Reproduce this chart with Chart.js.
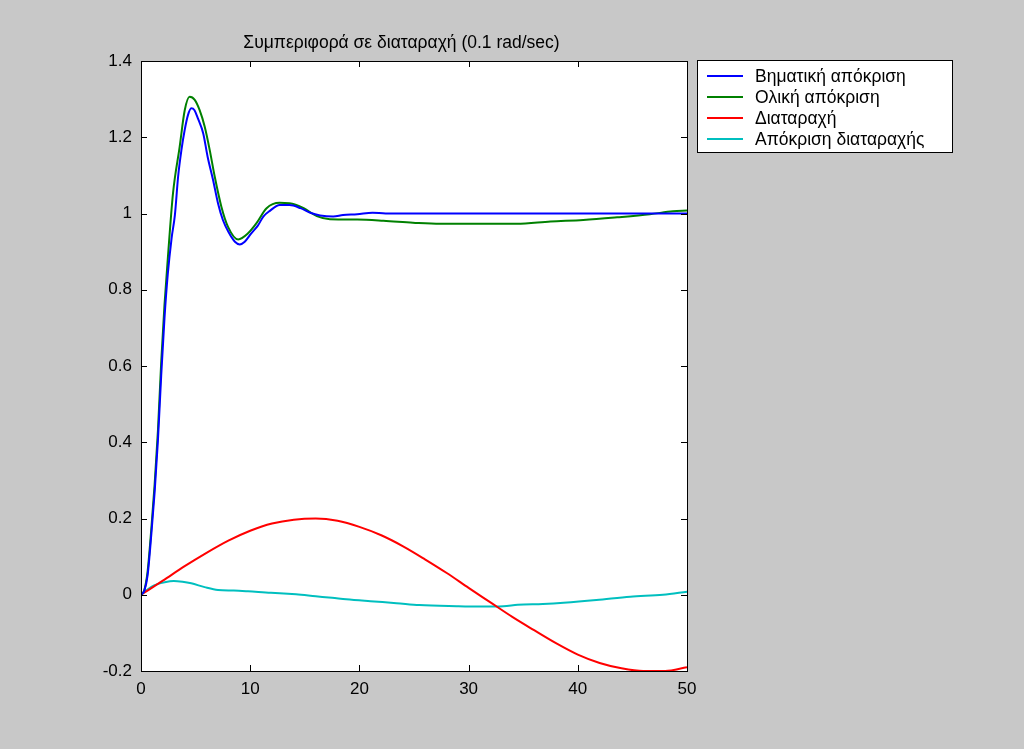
<!DOCTYPE html>
<html lang="el">
<head>
  <meta charset="UTF-8">
  <title>Συμπεριφορά σε διαταραχή</title>
  <script src="https://cdn.jsdelivr.net/npm/chart.js@4.4.1/dist/chart.umd.min.js"></script>
  <style>
    body {
      margin: 0;
      background-color: #c8c8c8;
    }
    #wrap {
      width: 1024px;
      height: 749px;
    }
  </style>
</head>
<body>
  <div id="wrap">
    <canvas id="responseChart" width="1024" height="749"></canvas>
  </div>

  <script>
    const chartTitle = 'Συμπεριφορά σε διαταραχή (0.1 rad/sec)';
    const seriesNames = ['Βηματική απόκριση', 'Ολική απόκριση', 'Διαταραχή', 'Απόκριση διαταραχής'];
    const seriesColors = ['#0000ff', '#008000', '#ff0000', '#00bfbf'];

    const xTicks = [0, 10, 20, 30, 40, 50];
    const yTicks = [-0.2, 0, 0.2, 0.4, 0.6, 0.8, 1, 1.2, 1.4];

    // step response
    const tStep = [0, 0.3, 0.6, 0.95, 1.25, 1.55, 1.85, 2.15, 2.45, 2.8, 3.1, 3.4, 3.7, 4.0, 4.3, 4.6, 4.9, 5.2, 5.7, 6.1, 6.6,
      7.05, 7.5, 8.0, 8.6, 9.05, 9.5, 10.1, 10.7, 11.2, 11.8, 12.7, 13.6, 14.6, 15.5, 16.4, 17.6, 18.5, 19.8, 21.2, 22.4, 50];
    const vStep = [0, 0.01, 0.05, 0.16, 0.27, 0.405, 0.575, 0.725, 0.84, 0.935, 0.995, 1.097, 1.166, 1.219, 1.258, 1.276, 1.271,
      1.25, 1.21, 1.149, 1.088, 1.027, 0.983, 0.952, 0.926, 0.919, 0.926, 0.948, 0.968, 0.992, 1.007, 1.022, 1.022, 1.014,
      1.002, 0.995, 0.992, 0.996, 0.998, 1.002, 1.0, 1.0];

    // total response
    const tTotal = [0, 0.3, 0.6, 0.95, 1.25, 1.55, 1.85, 2.15, 2.45, 2.93, 3.54, 4.0, 4.45, 4.92, 5.37, 5.83, 6.29, 6.75, 7.36,
      7.97, 8.9, 9.8, 10.56, 11.5, 12.7, 13.6, 14.9, 16.1, 17.3, 19.8, 22.2, 24.9, 27.4, 34.4, 37.5, 40.5, 43.6, 46.6, 48.7, 50];
    const vTotal = [0, 0.012, 0.06, 0.175, 0.29, 0.43, 0.61, 0.76, 0.88, 1.053, 1.175, 1.27, 1.306, 1.298, 1.271, 1.228, 1.167,
      1.097, 1.018, 0.965, 0.932, 0.948, 0.974, 1.014, 1.028, 1.027, 1.014, 0.993, 0.985, 0.984, 0.981, 0.976, 0.973, 0.973,
      0.979, 0.983, 0.99, 0.998, 1.006, 1.008];

    // disturbance
    const tDist = [0, 2, 4, 6, 8, 10, 12, 14, 16, 18, 20, 22, 24, 26, 28, 30, 32, 34, 36, 38, 40, 42, 44, 46, 48, 50];
    const vDist = [0, 0.037, 0.075, 0.11, 0.142, 0.168, 0.187, 0.197, 0.2, 0.194, 0.178, 0.156, 0.127, 0.093, 0.057, 0.018,
      -0.02, -0.058, -0.093, -0.127, -0.157, -0.179, -0.193, -0.2, -0.2, -0.19];

    // disturbance response
    const tDistResp = [0, 0.5, 0.95, 1.5, 2.17, 3.0, 3.8, 4.6, 5.83, 7.05, 8.5, 9.8, 11.9, 12.7, 14.2, 16, 17.5, 18.8, 21,
      23.4, 25.5, 28.9, 31, 33.2, 34.5, 36.8, 38.7, 41.7, 44.8, 47.8, 50];
    const vDistResp = [0, 0.012, 0.021, 0.028, 0.033, 0.036, 0.034, 0.03, 0.02, 0.0125, 0.011, 0.009, 0.005, 0.004, 0.001,
      -0.004, -0.008, -0.012, -0.017, -0.022, -0.027, -0.03, -0.031, -0.03, -0.026, -0.024, -0.021, -0.014, -0.005, 0.0, 0.008];

    const toPoints = (ts, vs) => ts.map((t, i) => ({ x: t, y: vs[i] }));
    const seriesPoints = [
      toPoints(tStep, vStep),
      toPoints(tTotal, vTotal),
      toPoints(tDist, vDist),
      toPoints(tDistResp, vDistResp)
    ];

    const FONT = '"Liberation Sans", Arial, Helvetica, sans-serif';

    // figure background, white axes, box with inward ticks, title and legend
    const figurePlugin = {
      id: 'figure',
      beforeDraw(chart) {
        const { ctx, chartArea: a } = chart;
        ctx.save();
        ctx.fillStyle = '#c8c8c8';
        ctx.fillRect(0, 0, chart.width, chart.height);
        ctx.fillStyle = '#ffffff';
        ctx.fillRect(a.left, a.top, a.right - a.left, a.bottom - a.top);
        ctx.restore();
      },
      afterDraw(chart) {
        const { ctx, chartArea: a } = chart;
        const xs = chart.scales.x;
        const ys = chart.scales.y;
        const tick = 6;
        ctx.save();
        ctx.strokeStyle = '#000000';
        ctx.lineWidth = 1;
        ctx.beginPath();
        xTicks.forEach((v) => {
          const px = Math.round(xs.getPixelForValue(v)) + 0.5;
          ctx.moveTo(px, a.bottom);
          ctx.lineTo(px, a.bottom - tick);
          ctx.moveTo(px, a.top);
          ctx.lineTo(px, a.top + tick);
        });
        yTicks.forEach((v) => {
          const py = Math.round(ys.getPixelForValue(v)) + 0.5;
          ctx.moveTo(a.left, py);
          ctx.lineTo(a.left + tick, py);
          ctx.moveTo(a.right, py);
          ctx.lineTo(a.right - tick, py);
        });
        ctx.stroke();
        ctx.strokeRect(Math.round(a.left) + 0.5, Math.round(a.top) + 0.5,
          Math.round(a.right - a.left), Math.round(a.bottom - a.top));

        // title
        ctx.fillStyle = '#000000';
        ctx.font = '17.5px ' + FONT;
        ctx.textAlign = 'center';
        ctx.textBaseline = 'alphabetic';
        ctx.fillText(chartTitle, 401.5, 48);

        // legend
        const lx = 697.5, ly = 60.5, lw = 255, lh = 92;
        ctx.fillStyle = '#ffffff';
        ctx.fillRect(lx, ly, lw, lh);
        ctx.strokeStyle = '#000000';
        ctx.strokeRect(lx, ly, lw, lh);
        ctx.textAlign = 'left';
        chart.data.datasets.forEach((ds, i) => {
          const y = 76 + i * 21;
          ctx.strokeStyle = ds.borderColor;
          ctx.lineWidth = 2;
          ctx.beginPath();
          ctx.moveTo(707, y);
          ctx.lineTo(743, y);
          ctx.stroke();
          ctx.fillStyle = '#000000';
          ctx.fillText(ds.label, 755, y + 6);
        });
        ctx.restore();
      }
    };

    const ctx = document.getElementById('responseChart').getContext('2d');
    new Chart(ctx, {
      type: 'line',
      data: {
        datasets: seriesPoints.map((pts, i) => ({
          label: seriesNames[i],
          data: pts,
          borderColor: seriesColors[i],
          backgroundColor: seriesColors[i],
          borderWidth: 2,
          pointRadius: 0,
          cubicInterpolationMode: 'monotone',
          fill: false
        }))
      },
      options: {
        responsive: false,
        animation: false,
        devicePixelRatio: 1,
        layout: {
          padding: { top: 61, right: 337, left: 0, bottom: 0 }
        },
        plugins: {
          legend: { display: false },
          title: { display: false },
          tooltip: { enabled: false }
        },
        scales: {
          x: {
            type: 'linear',
            min: 0,
            max: 50,
            afterFit: (s) => { s.height = 78; },
            afterBuildTicks: (s) => { s.ticks = xTicks.map((v) => ({ value: v })); },
            ticks: {
              color: '#000000',
              font: { family: FONT, size: 17 },
              padding: 8,
              maxRotation: 0
            },
            grid: { display: false, drawTicks: false },
            border: { display: false }
          },
          y: {
            min: -0.2,
            max: 1.4,
            afterFit: (s) => { s.width = 141; },
            afterBuildTicks: (s) => { s.ticks = yTicks.map((v) => ({ value: v })); },
            ticks: {
              color: '#000000',
              font: { family: FONT, size: 17 },
              padding: 9,
              callback: (v) => String(Number(v.toFixed(1)))
            },
            grid: { display: false, drawTicks: false },
            border: { display: false }
          }
        }
      },
      plugins: [figurePlugin]
    });
  </script>
</body>
</html>
